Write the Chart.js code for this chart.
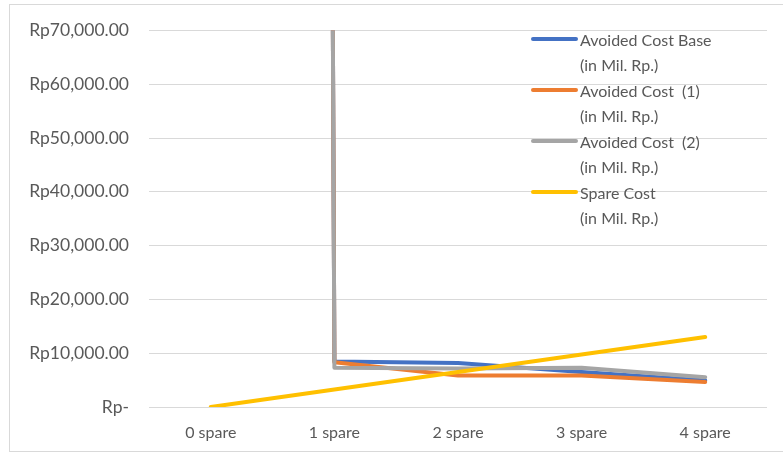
<!DOCTYPE html>
<html>
<head>
<meta charset="utf-8">
<script src="https://cdn.jsdelivr.net/npm/chart.js@4.4.0/dist/chart.umd.min.js"></script>
<style>
  html, body { margin: 0; padding: 0; background: #fff; }
  #wrap { position: relative; width: 783px; height: 455px; overflow: hidden; }
  #frame { position: absolute; left: 9px; top: 4px; width: 790px; height: 448px; border: 1px solid #d9d9d9; box-sizing: border-box; }
  canvas { position: absolute; left: 0; top: 0; }
  #legend { position: absolute; left: 531px; top: 27px; font-family: Lato, sans-serif; font-size: 16px; color: #595959; }
  .item { position: relative; height: 51px; }
  .swatch { position: absolute; left: 0; top: 10px; width: 47px; height: 4px; border-radius: 2px; }
  .txt { position: absolute; left: 49px; top: 0; line-height: 25px; white-space: pre; }
</style>
</head>
<body>
<div id="wrap">
  <div id="frame"></div>
  <canvas id="c" width="783" height="455"></canvas>
  <div id="legend"></div>
</div>
<script>
const categories = ['0 spare', '1 spare', '2 spare', '3 spare', '4 spare'];
const avoidedBase = [5000000, 8450, 8200, 6500, 4950];
const avoided1 = [5000000, 8300, 5850, 5850, 4650];
const avoided2 = [5000000, 7300, 7150, 7300, 5550];
const spareCost = [0, 3250, 6500, 9750, 13000];

const seriesNames = ['Avoided Cost Base', 'Avoided Cost  (1)', 'Avoided Cost  (2)', 'Spare Cost'];
const seriesColors = ['#4472c4', '#ed7d31', '#a5a5a5', '#ffc000'];
const seriesData = [avoidedBase, avoided1, avoided2, spareCost];
const unitLine = '(in Mil. Rp.)';

const textColor = '#595959';
const gridColor = '#d9d9d9';
const xFont = { family: 'Lato, sans-serif', size: 16 };
const yFont = { family: 'Lato, sans-serif', size: 17.5 };

function rupiah(v) {
  if (v === 0) return 'Rp-';
  return 'Rp' + v.toLocaleString('en-US', { minimumFractionDigits: 2, maximumFractionDigits: 2 });
}

const datasets = seriesData.map((d, i) => ({
  label: seriesNames[i],
  data: d,
  borderColor: seriesColors[i],
  backgroundColor: seriesColors[i],
  borderWidth: 4,
  pointRadius: 0,
  tension: 0,
  borderCapStyle: 'round',
  borderJoinStyle: 'round',
  order: 3 - i,
}));

new Chart(document.getElementById('c'), {
  type: 'line',
  data: { labels: categories, datasets },
  options: {
    responsive: false,
    animation: false,
    layout: { padding: { top: 28, right: 16, left: 0, bottom: 0 } },
    plugins: { legend: { display: false }, tooltip: { enabled: false } },
    scales: {
      x: {
        offset: true,
        grid: { display: false, drawTicks: false },
        border: { display: false },
        ticks: { color: textColor, font: xFont, padding: 16, maxRotation: 0 },
        afterFit: s => { s.height = 48; },
      },
      y: {
        min: 0,
        max: 70000,
        grid: { color: gridColor, lineWidth: 1, drawTicks: false },
        border: { display: false },
        ticks: { stepSize: 10000, color: textColor, font: yFont, padding: 20, callback: v => rupiah(v) },
        afterFit: s => { s.width = 149; },
      },
    },
  },
});

const legend = document.getElementById('legend');
seriesNames.forEach((name, i) => {
  const item = document.createElement('div');
  item.className = 'item';
  item.innerHTML = '<div class="swatch" style="background:' + seriesColors[i] + '"></div>' +
    '<div class="txt">' + name + '\n' + unitLine + '</div>';
  legend.appendChild(item);
});
</script>
</body>
</html>
